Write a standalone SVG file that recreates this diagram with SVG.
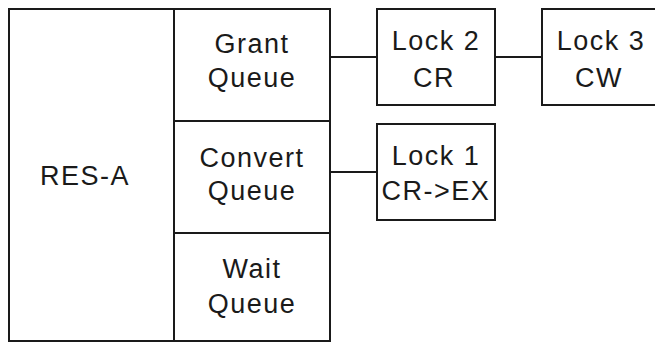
<svg xmlns="http://www.w3.org/2000/svg" width="655" height="344" viewBox="0 0 655 344">
<style>
.box{fill:none;stroke:#1a1a1a;stroke-width:2}
.ln{stroke:#1a1a1a;stroke-width:2;fill:none}
text{font-family:"Liberation Sans",Arial,sans-serif;font-size:27px;fill:#1a1a1a;text-anchor:middle;letter-spacing:1.5px}
</style>
<rect width="655" height="344" fill="#fff"/>
<g id="res-a">
<rect class="box" x="9" y="9" width="321" height="332"/>
<text x="85" y="185">RES-A</text>
</g>
<g id="grant-queue">
<rect class="box" x="174" y="9" width="156" height="112"/>
<text x="252" y="53">Grant</text>
<text x="252" y="87">Queue</text>
</g>
<g id="convert-queue">
<rect class="box" x="174" y="121" width="156" height="112"/>
<text x="252" y="167">Convert</text>
<text x="252" y="200">Queue</text>
</g>
<g id="wait-queue">
<rect class="box" x="174" y="233" width="156" height="108"/>
<text x="252" y="278">Wait</text>
<text x="252" y="313">Queue</text>
</g>
<g id="lock2">
<rect class="box" x="377" y="9" width="118" height="96"/>
<text x="436" y="50">Lock 2</text>
<text x="434" y="87">CR</text>
</g>
<g id="lock3">
<rect class="box" x="542" y="9" width="130" height="96"/>
<text x="601" y="50">Lock 3</text>
<text x="599" y="87">CW</text>
</g>
<g id="lock1">
<rect class="box" x="377" y="124" width="118" height="96"/>
<text x="436" y="165">Lock 1</text>
<text x="436" y="200">CR-&gt;EX</text>
</g>
<g id="connectors">
<line class="ln" x1="330" y1="57" x2="377" y2="57"/>
<line class="ln" x1="495" y1="57" x2="542" y2="57"/>
<line class="ln" x1="330" y1="172" x2="377" y2="172"/>
</g>
</svg>
